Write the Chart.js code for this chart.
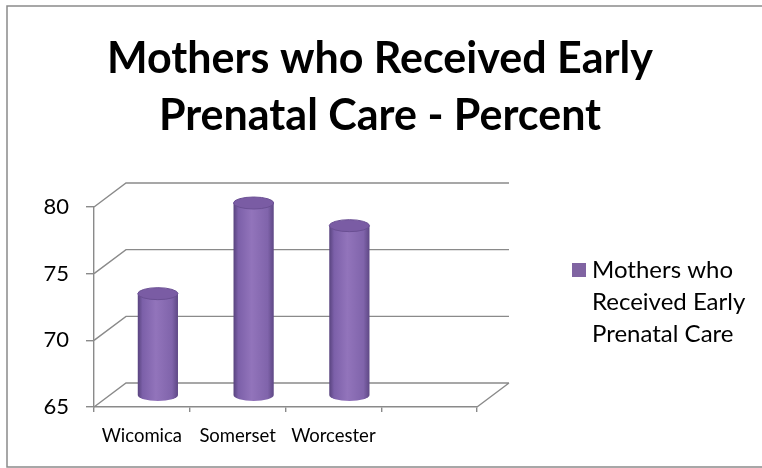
<!DOCTYPE html>
<html>
<head>
<meta charset="utf-8">
<script src="https://cdn.jsdelivr.net/npm/chart.js@4.4.1/dist/chart.umd.min.js"></script>
<style>
  html, body { margin: 0; padding: 0; background: #fff; }
  #wrap { width: 762px; height: 468px; position: relative; }
</style>
</head>
<body>
<div id="wrap"><canvas id="prenatalChart" width="762" height="468"></canvas></div>
<script>
// Chart data
const categories = ['Wicomica', 'Somerset', 'Worcester', ''];
const careValues = [72.6, 79.4, 77.7, null];
const yTickValues = [65, 70, 75, 80];
const seriesLabel = 'Mothers who Received Early Prenatal Care';
const legendLines = ['Mothers who', 'Received Early', 'Prenatal Care'];
const titleLines = ['Mothers who Received Early', 'Prenatal Care - Percent'];

const FONT = "Lato, 'Open Sans', sans-serif";
const GRID = '#8a8a8a';
const DEPTH_X = 32, DEPTH_Y = 24;   // back wall offset
const colors = {
  bar: '#8064a2',
  barDark: '#58437e',
  barLight: '#9274bb',
  cap: '#7a5ca4'
};

// draws the 3d walls, the cylinders, title, legend and frame
const threeD = {
  id: 'threeD',
  beforeDatasetsDraw(chart) {
    const { ctx, chartArea: a, scales: { y } } = chart;
    ctx.save();
    ctx.strokeStyle = GRID;
    ctx.lineWidth = 1.4;
    ctx.beginPath();
    yTickValues.forEach(v => {
      const py = y.getPixelForValue(v);
      ctx.moveTo(a.left, py);
      ctx.lineTo(a.left + DEPTH_X, py - DEPTH_Y);
      ctx.lineTo(a.right + DEPTH_X, py - DEPTH_Y);
    });
    // floor right edge
    ctx.moveTo(a.right, a.bottom);
    ctx.lineTo(a.right + DEPTH_X, a.bottom - DEPTH_Y);
    ctx.stroke();
    ctx.restore();
  },
  afterDatasetsDraw(chart) {
    const { ctx, scales: { y } } = chart;
    const meta = chart.getDatasetMeta(0);
    const basePx = y.getPixelForValue(y.min);
    ctx.save();
    meta.data.forEach((bar, i) => {
      if (careValues[i] == null) return;
      const p = bar.getProps(['x', 'y', 'width'], true);
      const cx = p.x + DEPTH_X / 2;
      const top = p.y - DEPTH_Y / 2;
      const bottom = basePx - DEPTH_Y / 2;
      const rx = p.width / 2, ry = 6;
      const g = ctx.createLinearGradient(cx - rx, 0, cx + rx, 0);
      g.addColorStop(0, colors.barDark);
      g.addColorStop(0.12, '#7c60a9');
      g.addColorStop(0.45, colors.barLight);
      g.addColorStop(0.85, '#8064ab');
      g.addColorStop(1, '#5e4885');
      ctx.fillStyle = g;
      ctx.beginPath();
      ctx.moveTo(cx - rx, top);
      ctx.lineTo(cx - rx, bottom);
      ctx.ellipse(cx, bottom, rx, ry, 0, Math.PI, 0, true);
      ctx.lineTo(cx + rx, top);
      ctx.closePath();
      ctx.fill();
      ctx.fillStyle = colors.cap;
      ctx.strokeStyle = '#6a4f93';
      ctx.lineWidth = 1;
      ctx.beginPath();
      ctx.ellipse(cx, top, rx, ry, 0, 0, Math.PI * 2);
      ctx.fill();
      ctx.stroke();
    });
    ctx.restore();
  },
  afterDraw(chart) {
    const { ctx } = chart;
    ctx.save();
    // title
    ctx.fillStyle = '#000';
    ctx.textAlign = 'center';
    ctx.textBaseline = 'alphabetic';
    ctx.font = 'bold 43px ' + FONT;
    titleLines.forEach((t, i) => ctx.fillText(t, 380, 73 + i * 57));
    // legend
    ctx.textAlign = 'left';
    ctx.fillStyle = colors.bar;
    ctx.fillRect(572, 263, 14, 14);
    ctx.fillStyle = '#000';
    ctx.font = '24px ' + FONT;
    ctx.textBaseline = 'middle';
    legendLines.forEach((t, i) => ctx.fillText(t, 592, 270 + i * 32));
    // outer frame
    ctx.strokeStyle = GRID;
    ctx.lineWidth = 1.5;
    ctx.strokeRect(7, 6, 800, 461);
    ctx.restore();
  }
};

new Chart(document.getElementById('prenatalChart'), {
  type: 'bar',
  data: {
    labels: categories,
    datasets: [{
      label: seriesLabel,
      data: careValues,
      backgroundColor: 'rgba(0,0,0,0)',
      barPercentage: 0.42,
      categoryPercentage: 1
    }]
  },
  options: {
    responsive: false,
    animation: false,
    layout: { padding: { left: 0, top: 207, right: 285, bottom: 0 } },
    plugins: {
      legend: { display: false },
      tooltip: { enabled: false },
      title: { display: false }
    },
    scales: {
      x: {
        grid: { drawOnChartArea: false, drawTicks: true, tickLength: 5, color: GRID, lineWidth: 1.4 },
        border: { display: true, color: GRID, width: 1.4 },
        ticks: { color: '#000', font: { family: FONT, size: 18.5 }, padding: 13, maxRotation: 0 },
        afterFit: s => { s.height = 61; }
      },
      y: {
        min: 65,
        max: 80,
        afterBuildTicks: s => { s.ticks = yTickValues.map(v => ({ value: v })); },
        grid: { drawOnChartArea: false, drawTicks: true, tickLength: 8, color: GRID, lineWidth: 1.4 },
        border: { display: true, color: GRID, width: 1.4 },
        ticks: { color: '#000', font: { family: FONT, size: 22 }, padding: 17 },
        afterFit: s => { s.width = 94; }
      }
    }
  },
  plugins: [threeD]
});
</script>
</body>
</html>
